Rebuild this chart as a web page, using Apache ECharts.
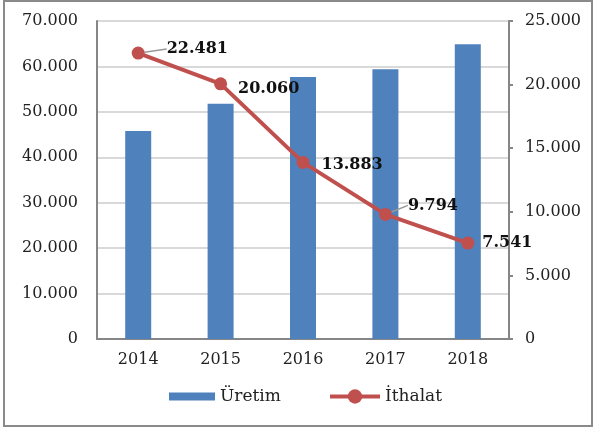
<!DOCTYPE html>
<html>
<head>
<meta charset="utf-8">
<script src="https://cdn.jsdelivr.net/npm/echarts@6/dist/echarts.min.js"></script>
<style>
  html, body { margin: 0; padding: 0; background: #fff; }
  #chart { width: 593px; height: 428px; }
  #frame { position: absolute; left: 3px; top: 0px; width: 586px; height: 423px; border: 2px solid #8a8a8a; pointer-events: none; }
</style>
</head>
<body>
<div id="chart"></div>
<div id="frame"></div>
<script>
// yıllar
var years = ['2014', '2015', '2016', '2017', '2018']
// Üretim (sol eksen)
var uretim = [45800, 51800, 57700, 59400, 64900]
// İthalat (sağ eksen)
var ithalat = [22481, 20060, 13883, 9794, 7541]

// etiket kaydırmaları (dx, dy)
var labelShift = [[17, -4], [6, 5], [7, 2], [11, -9], [3, 0]]
var withLeader = [true, false, false, true, false]

function fmt(v) {
  if (v === 0) return '0'
  return (v / 1000).toFixed(3)
}

var serif = '"DejaVu Serif", "Times New Roman", serif'
var chart = echarts.init(document.getElementById('chart'))

chart.setOption({
  animation: false,
  textStyle: { fontFamily: serif },
  grid: { left: 97, right: 84, top: 21, bottom: 89 },
  legend: [
    {
      left: 169,
      top: 388,
      padding: 0,
      itemWidth: 46,
      itemHeight: 8,
      textStyle: { fontFamily: serif, fontSize: 17, color: '#222' },
      data: [{ name: 'Üretim', icon: 'rect' }]
    },
    {
      left: 328,
      top: 388,
      padding: 0,
      itemWidth: 50,
      itemHeight: 18,
      lineStyle: { width: 4, color: '#c0504d' },
      textStyle: { fontFamily: serif, fontSize: 17, color: '#222' },
      data: [{ name: 'İthalat' }]
    }
  ],
  xAxis: {
    type: 'category',
    data: years,
    axisLine: { lineStyle: { color: '#868686', width: 2 } },
    axisTick: { show: false },
    axisLabel: { fontFamily: serif, fontSize: 16, color: '#222', margin: 13 }
  },
  yAxis: [
    {
      type: 'value',
      min: 0,
      max: 70000,
      interval: 10000,
      axisLine: { show: true, lineStyle: { color: '#868686', width: 2 } },
      axisTick: { show: false },
      splitLine: { lineStyle: { color: '#d9d9d9', width: 2 } },
      axisLabel: { fontFamily: serif, fontSize: 16, color: '#222', margin: 19, formatter: fmt }
    },
    {
      type: 'value',
      min: 0,
      max: 25000,
      interval: 5000,
      position: 'right',
      axisLine: { show: true, lineStyle: { color: '#868686', width: 2 } },
      axisTick: { show: true, inside: false, length: 4, lineStyle: { color: '#868686', width: 2 } },
      splitLine: { show: false },
      axisLabel: { fontFamily: serif, fontSize: 16, color: '#222', margin: 16, formatter: fmt }
    }
  ],
  series: [
    {
      name: 'Üretim',
      type: 'bar',
      yAxisIndex: 0,
      barWidth: 26,
      data: uretim,
      itemStyle: { color: '#4f81bd' }
    },
    {
      name: 'İthalat',
      type: 'line',
      yAxisIndex: 1,
      symbol: 'circle',
      symbolSize: 13,
      data: ithalat.map(function(v, i) {
        return { value: v, labelLine: { show: withLeader[i] } }
      }),
      lineStyle: { color: '#c0504d', width: 4 },
      itemStyle: { color: '#c0504d' },
      label: {
        show: true,
        position: 'right',
        distance: 5,
        fontFamily: serif,
        fontSize: 16,
        fontWeight: 'bold',
        color: '#111',
        formatter: function(p) { return fmt(p.value) }
      },
      labelLine: { show: false, lineStyle: { color: '#999', width: 1.5 } },
      labelLayout: function(params) {
        var s = labelShift[params.dataIndex]
        return { dx: s[0], dy: s[1] }
      }
    }
  ]
})
</script>
</body>
</html>
